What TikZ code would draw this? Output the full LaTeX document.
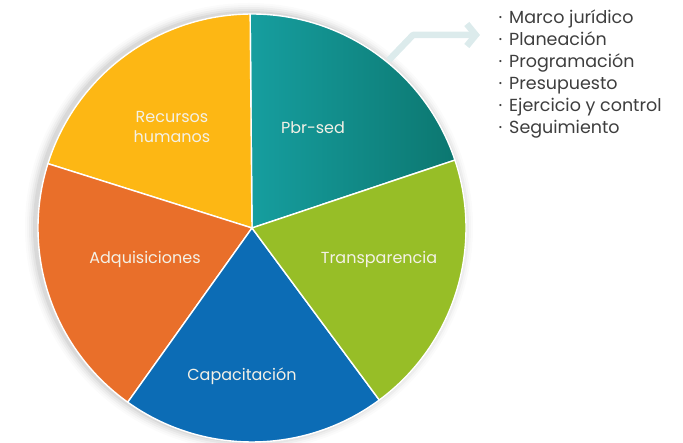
\documentclass[tikz,border=0pt]{standalone}
\usepackage{fontspec}
\setmainfont{Poppins}
\usetikzlibrary{positioning,arrows.meta,calc}
\definecolor{sliceYellow}{HTML}{FDB714}
\definecolor{sliceOrange}{HTML}{E96F2A}
\definecolor{sliceBlue}{HTML}{0C6CB5}
\definecolor{sliceGreen}{HTML}{97BE27}
\definecolor{tealLight}{HTML}{169E9F}
\definecolor{tealDark}{HTML}{0C7770}
\definecolor{arrowPale}{HTML}{DCEBEC}
\definecolor{textList}{HTML}{3E3E3E}
\definecolor{labelLight}{HTML}{F4F1E6}
\newcommand{\slice}[3]{%
  \fill[#3,draw=white,line width=1.4pt,line join=round]
    (pie) -- ++(#1:214) arc[start angle=#1,end angle=#2,radius=214] -- cycle;
}
\newcommand{\bul}{·\hspace{7pt}}

\begin{document}
\begin{tikzpicture}[x=1pt,y=1pt,
    every node/.style={align=center,font=\fontsize{16}{20}\selectfont,
                       text=labelLight},
    listtext/.style={align=left,anchor=north west,text=textList,
                     font=\fontsize{17.5}{22}\selectfont}]
  \useasboundingbox (0,0) rectangle (683,443);
  \coordinate (pie) at (252,215);
  \foreach \r/\o in {10/0.015,8/0.02,6/0.03,4/0.04,2/0.05}
    \fill[black,opacity=\o] ($(pie)+(-3,1)$) circle[radius=214+\r];
  \shade[left color=tealLight,right color=tealDark,draw=white,line width=1.4pt]
    (pie) -- ++(18.5:214) arc[start angle=18.5,end angle=90.5,radius=214] -- cycle;
  \slice{90.5}{162.5}{sliceYellow}
  \slice{162.5}{234.5}{sliceOrange}
  \slice{234.5}{306.5}{sliceBlue}
  \slice{306.5}{378.5}{sliceGreen}
  \node (recursos) at (172,316) {Recursos\\humanos};
  \node (pbr) at (313,315) {Pbr-sed};
  \node (adq) at (145,183) {Adquisiciones};
  \node (transp) at (379,183) {Transparencia};
  \node (capac) at (242,67) {Capacitación};
  \node[listtext] (list) at (495,437)
    {\bul Marco jurídico\\\bul Planeación\\\bul Programación\\\bul Presupuesto\\
     \bul Ejercicio y control\\\bul Seguimiento};
  \coordinate (arrowtail) at (389,383);
  \coordinate (arrowbend) at (413,408);
  \draw[arrowPale,line width=6.5pt,line join=round,
        -{Straight Barb[length=9pt,width=22pt]}]
    (arrowtail) -- (arrowbend) -- ($(list.west |- arrowbend)+(-15,0)$);
\end{tikzpicture}
\end{document}
